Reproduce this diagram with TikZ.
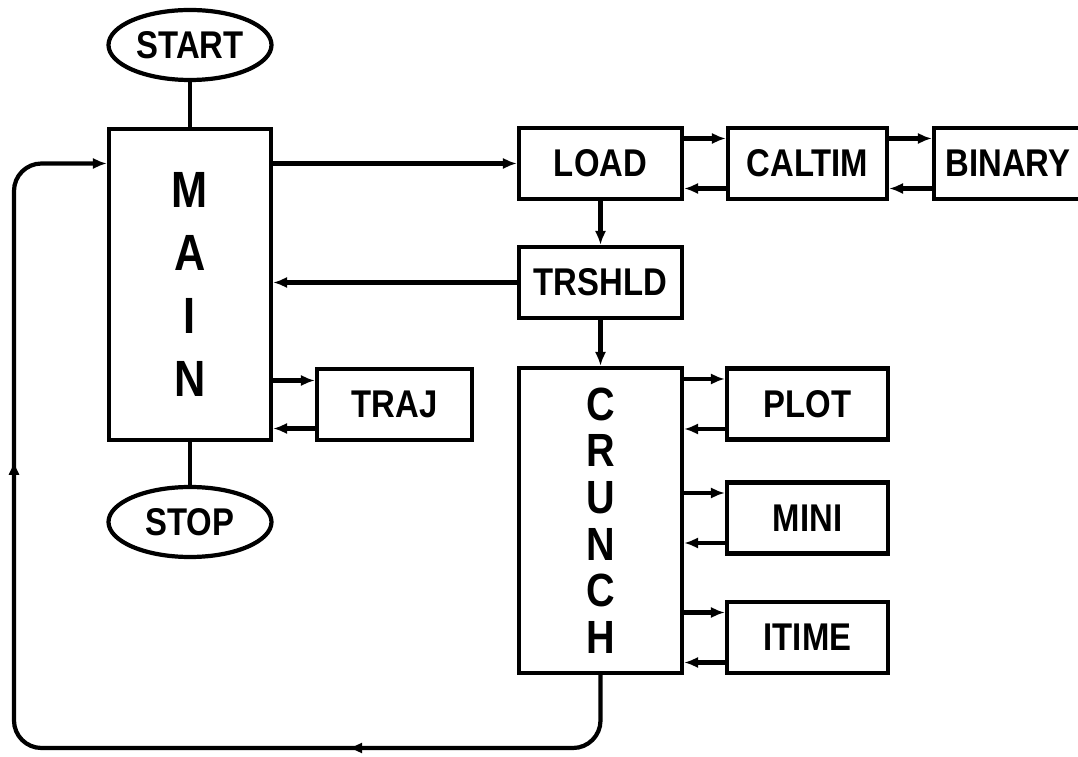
\documentclass[tikz,border=0pt]{standalone}
\usepackage{fontspec}
\newfontfamily\chartfont{Liberation Sans}[FakeStretch=0.85]
\usetikzlibrary{arrows.meta,shapes.geometric,decorations.markings}

\begin{document}
\begin{tikzpicture}[
  line width=2.4pt,
  box/.style={draw, rectangle, inner sep=0pt, minimum width=3.24cm, minimum height=1.42cm,
    font=\chartfont\bfseries\fontsize{22}{24}\selectfont},
  term/.style={draw, ellipse, inner sep=0pt, minimum width=3.26cm, minimum height=1.4cm,
    font=\chartfont\bfseries\fontsize{22}{24}\selectfont},
  tall/.style={box, align=center},
  arr/.style={-{Latex[length=8pt,width=6.5pt]}},
  backline/.style={arr, rounded corners=0.55cm, postaction={decorate},
    decoration={markings,
      mark=at position 6.27cm with {\arrow{Latex[length=8pt,width=6.5pt]}},
      mark=at position 18.46cm with {\arrow{Latex[length=8pt,width=6.5pt]}}}},
]
\path[use as bounding box, clip] (0,0) rectangle (21.56,15.12);

% left column
\node[term] (start) at (3.80,14.22) {START};
\node[tall, minimum height=6.22cm, font=\chartfont\bfseries\fontsize{29}{35.8}\selectfont] (main) at (3.80,9.43) {M\\A\\I\\N};
\node[term] (stop) at (3.80,4.68) {STOP};
\node[box, minimum width=3.10cm] (traj) at (7.89,7.03) {TRAJ};

% middle column
\node[box, minimum width=3.26cm] (load) at (12.01,11.85) {LOAD};
\node[box, minimum width=3.26cm] (trshld) at (12.01,9.47) {TRSHLD};
\node[tall, minimum width=3.26cm, minimum height=6.10cm, font=\chartfont\bfseries\fontsize{26.5}{26.5}\selectfont] (crunch) at (12.01,4.71) {C\\R\\U\\N\\C\\H};

% right column
\node[box, minimum width=3.18cm] (caltim) at (16.15,11.85) {CALTIM};
\node[box, minimum width=2.96cm] (binary) at (20.16,11.85) {BINARY};
\node[box, minimum width=3.22cm] (plot) at (16.15,7.04) {PLOT};
\node[box, minimum width=3.22cm] (mini) at (16.15,4.76) {MINI};
\node[box, minimum width=3.22cm] (itime) at (16.15,2.37) {ITIME};

\draw (start) -- (main);
\draw (main) -- (stop);
\draw[arr] (load.west -| main.east) -- (load.west);
\draw[arr] (trshld.west) -- (trshld.west -| main.east);
\draw[arr] (load) -- (trshld);
\draw[arr] (trshld) -- (crunch);

\draw[arr] ([yshift=4.8mm]traj.west -| main.east) -- ([yshift=4.8mm]traj.west);
\draw[arr] ([yshift=-4.8mm]traj.west) -- ([yshift=-4.8mm]traj.west -| main.east);

\foreach \a/\b in {load/caltim, caltim/binary} {
  \draw[arr] ([yshift=5mm]\a.east) -- ([yshift=5mm]\b.west);
  \draw[arr] ([yshift=-5mm]\b.west) -- ([yshift=-5mm]\a.east);
}
\foreach \sub in {plot, mini, itime} {
  \draw[arr] ([yshift=5mm]\sub.west -| crunch.east) -- ([yshift=5mm]\sub.west);
  \draw[arr] ([yshift=-5mm]\sub.west) -- ([yshift=-5mm]\sub.west -| crunch.east);
}

% return path
\coordinate (corner) at (0.28,0.16);
\draw[backline] (crunch.south) -- (crunch.south |- corner) -- (corner)
  -- (corner |- load.west) -- (load.west -| main.west);
\end{tikzpicture}
\end{document}
